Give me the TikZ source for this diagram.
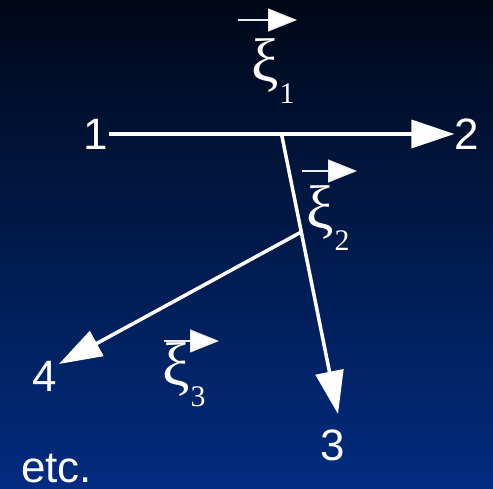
\documentclass[tikz,border=0pt]{standalone}
\usepackage{fontspec}
\setmainfont{Liberation Sans}
\newfontfamily\xifont{Liberation Serif}
\usetikzlibrary{arrows.meta, calc}
\definecolor{bgtop}{HTML}{000818}
\definecolor{bgbot}{HTML}{022C80}
\newcommand{\xisub}[1]{\xifont ξ\kern0.5pt\raisebox{-12pt}{\fontsize{17}{17}\selectfont #1}}

\begin{document}
\begin{tikzpicture}[
  x=0.02cm, y=-0.02cm,
  line cap=butt, line join=round,
  lbl/.style={text=white, inner sep=0pt, font=\fontsize{25}{28}\selectfont},
  xilbl/.style={text=white, inner sep=0pt, anchor=base west, font=\fontsize{35}{38}\selectfont},
  branch/.style={draw=white, line width=2pt, -{Triangle[length=0.86cm, width=0.56cm]}},
  vec/.style={draw=white!85!gray, line width=0.7pt, -{Triangle[length=0.58cm, width=0.46cm, fill=white]}},
]
\shade[top color=bgtop, bottom color=bgbot] (0,0) rectangle (493,489);
\useasboundingbox (0,0) rectangle (493,489);

% ----- end points -----
\node[lbl] (n1) at (96,134) {1};
\node[lbl] (n2) at (467,134) {2};
\node[lbl] (n3) at (333,445) {3};
\node[lbl] (n4) at (45,376) {4};
\node[lbl, anchor=base west] (etc) at (21,482) {etc.};

\coordinate (j1) at ($(n1.east)!0.5!(n2.west)$);
\coordinate (t3) at (338,414);
\coordinate (t4) at (59,364);
\coordinate (j2) at ($(j1)!0.35!(t3)$);

% ----- branches -----
\draw[branch] (n1.east) -- (n2.west);
\draw[branch] (j1) -- (t3);
\draw[branch] (j2) -- (t4);

% ----- step vectors -----
\node[xilbl] (xi1) at (251,82) {\xisub{1}};
\node[xilbl] (xi2) at (306,229) {\xisub{2}};
\node[xilbl] (xi3) at (162,385) {\xisub{3}};
\coordinate (v1a) at (238,20);  \coordinate (v1b) at (297,20);
\coordinate (v2a) at (302,171); \coordinate (v2b) at (357,171);
\coordinate (v3a) at (164,341); \coordinate (v3b) at (219,341);
\draw[vec] (v1a) -- (v1b);
\draw[vec] (v2a) -- (v2b);
\draw[vec] (v3a) -- (v3b);
\end{tikzpicture}
\end{document}
